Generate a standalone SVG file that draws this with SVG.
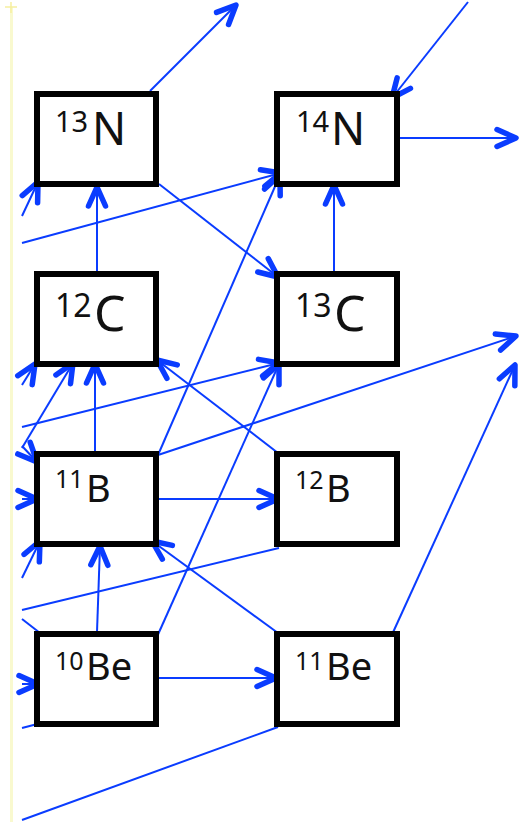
<svg xmlns="http://www.w3.org/2000/svg" width="529" height="822" viewBox="0 0 529 822">
  <style>
    .box { fill: #ffffff; stroke: #000000; stroke-width: 6; }
    .edge { stroke: #0a3cff; stroke-width: 2; fill: none; }
    .lbl { font-family: "Noto Sans", "DejaVu Sans", sans-serif; fill: #111111; }
    .sup-n { font-size: 29px; }
    .big-n { font-size: 45px; }
    .sup-c { font-size: 32px; }
    .big-c { font-size: 50px; }
    .sup-b { font-size: 25px; }
    .big-b { font-size: 38px; }
  </style>
  <defs>
    <marker id="head" markerUnits="userSpaceOnUse" viewBox="-26 -16 32 32" markerWidth="32" markerHeight="32" refX="0" refY="0" orient="auto" overflow="visible">
      <path d="M-19,-8.5 L0,0 L-19,8.5" fill="none" stroke="#0a3cff" stroke-width="5.5" stroke-linecap="round" stroke-linejoin="round"/>
    </marker>
  </defs>

  <rect width="529" height="822" fill="#ffffff"/>

  <!-- pale guide line on the left margin -->
  <g id="margin-line">
    <rect x="10" y="7" width="3" height="815" fill="#f9f9cf"/>
    <path d="M5,7 L17,7 M11,2 L11,13" stroke="#f6efa0" stroke-width="1.5"/>
  </g>

  <!-- reaction connectors -->
  <g id="connectors">
    <path class="edge" d="M150,91 L236,5" marker-end="url(#head)"/>
    <path class="edge" d="M468,2 L392,98" marker-end="url(#head)"/>
    <path class="edge" d="M397,138 L516,138" marker-end="url(#head)"/>
    <path class="edge" d="M97,271 L97,187" marker-end="url(#head)"/>
    <path class="edge" d="M334,271 L334,185" marker-end="url(#head)"/>
    <path class="edge" d="M159,184 L278,277" marker-end="url(#head)"/>
    <path class="edge" d="M22,243 L281,173" marker-end="url(#head)"/>
    <path class="edge" d="M22,216 L38,182" marker-end="url(#head)"/>
    <path class="edge" d="M158,455 L280,175" marker-end="url(#head)"/>
    <path class="edge" d="M156,639 L279,364" marker-end="url(#head)"/>
    <path class="edge" d="M22,427 L279,363" marker-end="url(#head)"/>
    <path class="edge" d="M158,455 L516,336" marker-end="url(#head)"/>
    <path class="edge" d="M278,453 L157,360" marker-end="url(#head)"/>
    <path class="edge" d="M95,452 L95,364" marker-end="url(#head)"/>
    <path class="edge" d="M22,448 L73,363" marker-end="url(#head)"/>
    <path class="edge" d="M22,446 L37,462" marker-end="url(#head)"/>
    <path class="edge" d="M22,385 L35,364" marker-end="url(#head)"/>
    <path class="edge" d="M22,499 L37,499" marker-end="url(#head)"/>
    <path class="edge" d="M22,578 L40,541" marker-end="url(#head)"/>
    <path class="edge" d="M97,632 L100,546" marker-end="url(#head)"/>
    <path class="edge" d="M278,633 L152,541" marker-end="url(#head)"/>
    <path class="edge" d="M279,548 L22,610"/>
    <path class="edge" d="M40,633 L22,619"/>
    <path class="edge" d="M22,684 L38,684" marker-end="url(#head)"/>
    <path class="edge" d="M45,722 L22,728"/>
    <path class="edge" d="M278,727 L22,820"/>
    <path class="edge" d="M157,678 L276,678" marker-end="url(#head)"/>
    <path class="edge" d="M158,499 L278,499" marker-end="url(#head)"/>
    <path class="edge" d="M390,639 L515,365" marker-end="url(#head)"/>
  </g>

  <!-- nuclide boxes -->
  <g id="n13">
    <rect class="box" x="37" y="94" width="119" height="90"/>
    <text class="lbl sup-n" x="55" y="132">13</text>
    <text class="lbl big-n" x="92" y="145">N</text>
  </g>
  <g id="n14">
    <rect class="box" x="277" y="94" width="120" height="90"/>
    <text class="lbl sup-n" x="296" y="132">14</text>
    <text class="lbl big-n" x="331" y="145">N</text>
  </g>
  <g id="c12">
    <rect class="box" x="37" y="274" width="119" height="90"/>
    <text class="lbl sup-c" x="55" y="317">12</text>
    <text class="lbl big-c" x="94" y="331">C</text>
  </g>
  <g id="c13">
    <rect class="box" x="277" y="274" width="120" height="90"/>
    <text class="lbl sup-c" x="295" y="317">13</text>
    <text class="lbl big-c" x="334" y="331">C</text>
  </g>
  <g id="b11">
    <rect class="box" x="37" y="454" width="119" height="90"/>
    <text class="lbl sup-b" x="55" y="488">11</text>
    <text class="lbl big-b" x="86" y="502">B</text>
  </g>
  <g id="b12">
    <rect class="box" x="277" y="454" width="120" height="90"/>
    <text class="lbl sup-b" x="295" y="489">12</text>
    <text class="lbl big-b" x="326" y="502">B</text>
  </g>
  <g id="be10">
    <rect class="box" x="37" y="634" width="119" height="90"/>
    <text class="lbl sup-b" x="55" y="670">10</text>
    <text class="lbl big-b" x="86" y="680">Be</text>
  </g>
  <g id="be11">
    <rect class="box" x="277" y="634" width="120" height="90"/>
    <text class="lbl sup-b" x="295" y="670">11</text>
    <text class="lbl big-b" x="326" y="680">Be</text>
  </g>
</svg>
